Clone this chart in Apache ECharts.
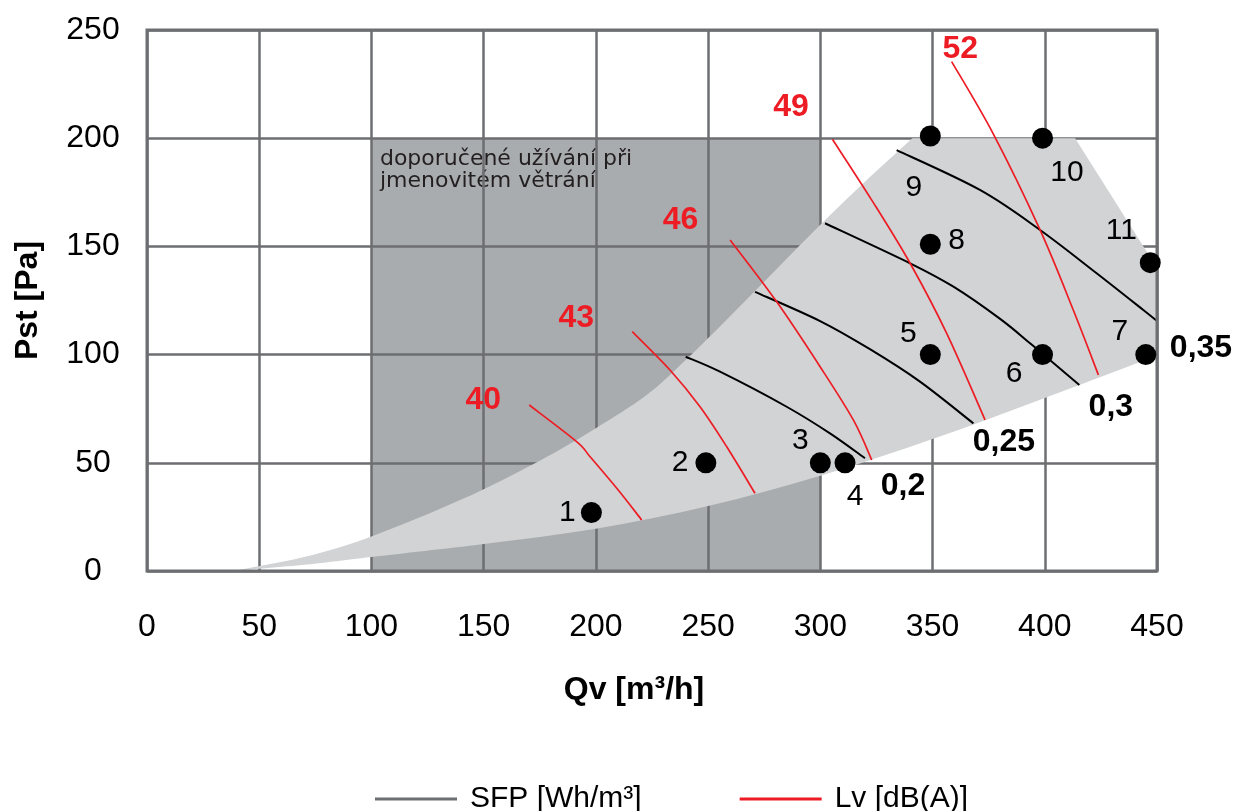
<!DOCTYPE html>
<html><head><meta charset="utf-8">
<script src="https://cdn.jsdelivr.net/npm/echarts@6/dist/echarts.min.js"></script>
<style>html,body{margin:0;padding:0;background:#fff}#c{width:1237px;height:811px}</style>
</head><body><div id="c"></div>
<script>
// ---------- data ----------
const xTickStep = 50, xMin = 0, xMax = 450;
const yTickStep = 50, yMin = 0, yMax = 250;

const pointX = [198, 249, 300, 311, 349, 399, 445, 349, 349, 399, 447];
const pointY = [27, 50, 50, 50, 100, 100, 100, 151, 201, 200, 142.5];
const pointLabels = ['1','2','3','4','5','6','7','8','9','10','11'];

const sfpName = 'SFP [Wh/m³]';
const sfpLabels = ['0,2', '0,25', '0,3', '0,35'];
const sfp020 = [[240,99],[255.3,92.1],[285,75.9],[304.3,63.6],[319.9,52.1]];
const sfp025 = [[270.9,129],[299.9,115.5],[322.1,102.5],[344.4,87.5],[368.2,68.2]];
const sfp030 = [[302.1,160.7],[340,142.2],[359.3,131.4],[380.1,116.5],[394.4,104.4],[415.4,86]];
const sfp035 = [[334,194.5],[371.1,176.1],[397.9,157.6],[423.1,137.6],[443.9,120.6],[450,115.5]];

const lvName = 'Lv [dB(A)]';
const lvLabels = ['40', '43', '46', '49', '52'];
const lv40 = [[170.3,76.7],[191.4,59.8],[197.4,52.8],[209.3,38.2],[220.4,23.6]];
const lv43 = [[216.2,110.6],[233,92.9],[246.4,75.9],[258.3,57.4],[270.9,35.9]];
const lv46 = [[259.8,153],[280.5,124.5],[299.9,94.4],[314.7,69.8],[322.9,51.3]];
const lv49 = [[305.4,199.5],[322.9,171.4],[340,142.2],[356.3,109.8],[373.4,69.8]];
const lv52 = [[358.5,235.4],[377.1,201.9],[397.9,157.6],[412.7,120.6],[423.9,90.6]];

const envelopeUpper = [[38,0],[70,6.5],[100,16],[140,33],[175,51],[200,66],[222.6,81.3],[240,97.5],[260,118],[280,139],[300,160],[320,180],[341,200]];
const envelopeCorner = [[413.5,200],[450,140]];
const envelopeLower = [[38,0],[71,3],[100,6.5],[150,12.5],[200,19.5],[250,30],[300,44],[350,61],[400,80],[450,99.5]];

const zoneX = [100, 300];
const zoneY = [0, 200];
const zoneText = 'doporučené užívání při\njmenovitém větrání';

// ---------- rendering ----------
const FONT = '"Liberation Sans", Arial, Helvetica, sans-serif';
const GRID_C = '#6d6e71';
const RED = '#ed1c24';

function catmull(pts) {
  let d = '';
  for (let i = 0; i < pts.length - 1; i++) {
    const p0 = pts[i - 1] || pts[i], p1 = pts[i], p2 = pts[i + 1], p3 = pts[i + 2] || pts[i + 1];
    const c1 = [p1[0] + (p2[0] - p0[0]) / 6, p1[1] + (p2[1] - p0[1]) / 6];
    const c2 = [p2[0] - (p3[0] - p1[0]) / 6, p2[1] - (p3[1] - p1[1]) / 6];
    d += ` C${c1[0]},${c1[1]} ${c2[0]},${c2[1]} ${p2[0]},${p2[1]}`;
  }
  return d;
}

const sfpCurves = [sfp020, sfp025, sfp030, sfp035];
const lvCurves = [lv40, lv43, lv46, lv49, lv52];
const sfpLabelOffset = [[38,27.5],[30.5,19],[31.5,22.5],[44,27.5]];
const lvLabelOffset = [[-46,-4.5],[-56,-13],[-49.5,-19.5],[-41.4,-31.8],[8.6,-12.5]];
const pointLabelOffset = [[-24,0],[-25.7,0],[-20,-22],[10,34],[-22,-21],[-28.4,19],[-26,-23],[26.4,-4],[-16.5,52],[24.5,35],[-29,-32]];

function curveSeries(name, curves, color, width) {
  return {
    name, type: 'custom', z: 4, silent: true,
    itemStyle: {color},
    data: curves.map(c => c[0]),
    renderItem: (params, api) => {
      const pts = curves[params.dataIndex].map(p => api.coord(p));
      const d = `M${pts[0][0]},${pts[0][1]}` + catmull(pts);
      return {type: 'path', shape: {pathData: d},
              style: {fill: 'none', stroke: color, lineWidth: width}};
    }
  };
}

const series = [];

series.push({
  type: 'custom', z: 1, silent: true,
  data: [[zoneX[0], zoneY[0]]],
  renderItem: (params, api) => {
    const p0 = api.coord([zoneX[0], zoneY[1]]);
    const p1 = api.coord([zoneX[1], zoneY[0]]);
    return {type: 'group', children: [
      {type: 'rect', shape: {x: p0[0], y: p0[1], width: p1[0] - p0[0], height: p1[1] - p0[1]},
       style: {fill: '#a9acae'}},
      {type: 'text', x: p0[0] + 8.5, y: p0[1] + 10,
       style: {text: zoneText, fill: '#231f20', font: '22px "DejaVu Sans", sans-serif',
               lineHeight: 22, align: 'left', verticalAlign: 'top'}}
    ]};
  }
});

series.push({
  type: 'custom', z: 3, silent: true,
  data: [[envelopeLower[0][0], envelopeLower[0][1]]],
  renderItem: (params, api) => {
    const up = envelopeUpper.map(p => api.coord(p));
    const corners = envelopeCorner.map(p => api.coord(p));
    const low = envelopeLower.slice().reverse().map(p => api.coord(p));
    let d = `M${up[0][0]},${up[0][1]}` + catmull(up);
    corners.forEach(c => { d += ` L${c[0]},${c[1]}`; });
    d += ` L${low[0][0]},${low[0][1]}` + catmull(low) + ' Z';
    return {type: 'path', shape: {pathData: d}, style: {fill: '#d1d3d4'}};
  }
});

series.push(curveSeries(sfpName, sfpCurves, '#000', 2));
series.push(curveSeries(lvName, lvCurves, RED, 1.7));

// curve labels
series.push({
  type: 'scatter', z: 8, silent: true, symbolSize: 1, itemStyle: {color: 'rgba(0,0,0,0)', opacity: 1},
  data: sfpCurves.map((c, i) => ({
    value: c[c.length - 1],
    label: {show: true, formatter: sfpLabels[i], position: 'inside', offset: sfpLabelOffset[i],
            color: '#000', fontWeight: 'bold', fontSize: 32, fontFamily: FONT}
  }))
});
series.push({
  type: 'scatter', z: 8, silent: true, symbolSize: 1, itemStyle: {color: 'rgba(0,0,0,0)', opacity: 1},
  data: lvCurves.map((c, i) => ({
    value: c[0],
    label: {show: true, formatter: lvLabels[i], position: 'inside', offset: lvLabelOffset[i],
            color: RED, fontWeight: 'bold', fontSize: 32, fontFamily: FONT}
  }))
});

series.push({
  type: 'scatter', z: 9, silent: true, symbol: 'circle', symbolSize: 21,
  itemStyle: {color: '#000', opacity: 1},
  data: pointX.map((x, i) => ({
    value: [x, pointY[i]],
    label: {show: true, formatter: pointLabels[i], position: 'inside', offset: pointLabelOffset[i],
            color: '#000', fontSize: 30, fontFamily: FONT}
  }))
});

const chart = echarts.init(document.getElementById('c'), null, {renderer: 'canvas'});
chart.setOption({
  animation: false,
  backgroundColor: '#fff',
  grid: {left: 147, right: 80, top: 30, bottom: 240, show: true, borderColor: GRID_C,
         borderWidth: 3, backgroundColor: 'rgba(0,0,0,0)', z: 6},
  legend: {
    left: 375, top: 784, padding: 0, itemWidth: 82, itemHeight: 3, itemGap: 98,
    textStyle: {fontSize: 30, fontFamily: FONT, color: '#000', padding: [0, 0, 0, 8]},
    data: [
      {name: sfpName, icon: 'rect', itemStyle: {color: GRID_C}},
      {name: lvName, icon: 'rect', itemStyle: {color: RED}}
    ]
  },
  xAxis: {
    type: 'value', min: xMin, max: xMax, interval: xTickStep, z: 2,
    name: 'Qv [m³/h]', nameLocation: 'middle', nameGap: 103,
    nameTextStyle: {fontSize: 32, fontWeight: 'bold', fontFamily: FONT, color: '#000', padding: [0, 36, 0, 0]},
    axisLine: {show: false}, axisTick: {show: false},
    axisLabel: {fontSize: 32, fontFamily: FONT, color: '#000', margin: 40},
    splitLine: {show: true, lineStyle: {color: GRID_C, width: 2.5}}
  },
  yAxis: {
    type: 'value', min: yMin, max: yMax, interval: yTickStep, z: 2,
    name: 'Pst [Pa]', nameLocation: 'middle', nameGap: 103, nameRotate: 90,
    nameTextStyle: {fontSize: 32, fontWeight: 'bold', fontFamily: FONT, color: '#000'},
    axisLine: {show: false}, axisTick: {show: false},
    axisLabel: {fontSize: 32, fontFamily: FONT, color: '#000', margin: 54, align: 'center'},
    splitLine: {show: true, lineStyle: {color: GRID_C, width: 2.5}}
  },
  series
});
</script></body></html>
